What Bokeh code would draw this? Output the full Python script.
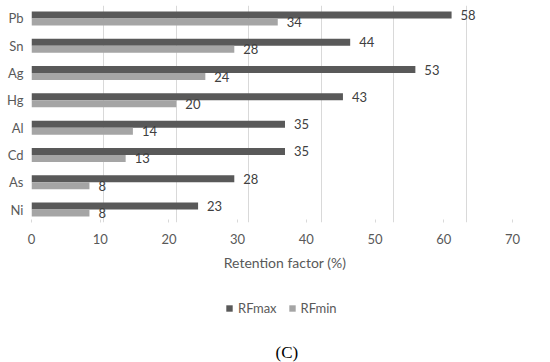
from bokeh.plotting import figure
from bokeh.layouts import column
from bokeh.core.properties import value
from bokeh.models import (ColumnDataSource, LabelSet, Range1d, LinearAxis, Grid,
                          FixedTicker, Legend, LegendItem, Label)
from bokeh.transform import dodge
from bokeh.embed import file_html
from bokeh.resources import INLINE

categories = ["Pb", "Sn", "Ag", "Hg", "Al", "Cd", "As", "Ni"]
rf_max = [58, 44, 53, 43, 35, 35, 28, 23]
rf_min = [34, 28, 24, 20, 14, 13, 8, 8]
x_ticks = [0, 10, 20, 30, 40, 50, 60, 70]
series_names = ["RFmax", "RFmin"]
caption = "(C)"

n = len(categories)
ypos = [n - 1 - i for i in range(n)]
src = ColumnDataSource(dict(
    y=ypos, cat=categories, rfmax=rf_max, rfmin=rf_min,
    rfmax_s=[str(v) for v in rf_max], rfmin_s=[str(v) for v in rf_min],
))

FONT = "Lato"
TXT = "#595959"
DARK = "#595959"
LIGHT = "#a5a5a5"

p = figure(frame_width=507, frame_height=217, output_backend="svg", toolbar_location=None,
           x_range=Range1d(0, 70), y_range=Range1d(-0.476, 7.476),
           x_axis_type=None, y_axis_type=None,
           min_border_left=31, min_border_right=12, min_border_top=5,
           min_border_bottom=0)
p.outline_line_color = None
p.background_fill_color = "white"

p.add_layout(Grid(dimension=0, ticker=FixedTicker(ticks=x_ticks),
                  grid_line_color="#d9d9d9", grid_line_width=1))

bw = 0.256
p.hbar(y=dodge("y", bw / 2), right="rfmax", left=0, height=bw,
       source=src, fill_color=DARK, line_color=None)
p.hbar(y=dodge("y", -bw / 2), right="rfmin", left=0, height=bw,
       source=src, fill_color=LIGHT, line_color=None)

lbl_kw = dict(text_font=value(FONT), text_font_size=value("13px"),
              text_color=value("#404040"), text_baseline=value("middle"),
              text_align=value("left"), x_offset=9)
p.add_layout(LabelSet(x="rfmax", y=dodge("y", bw / 2), text="rfmax_s", source=src, **lbl_kw))
p.add_layout(LabelSet(x="rfmin", y=dodge("y", -bw / 2), text="rfmin_s", source=src, **lbl_kw))

# category axis
yax = LinearAxis(ticker=FixedTicker(ticks=ypos),
                 major_label_overrides={y: c for y, c in zip(ypos, categories)})
yax.axis_line_color = None
yax.major_tick_line_color = None
yax.minor_tick_line_color = None
yax.major_tick_in = 0
yax.major_tick_out = 0
yax.major_label_text_font = FONT
yax.major_label_text_font_size = "13px"
yax.major_label_text_color = TXT
yax.major_label_standoff = 8
p.add_layout(yax, "left")

# value axis
p.extra_x_ranges = {"ax": Range1d(0, 73.79)}
xax = LinearAxis(x_range_name="ax", ticker=FixedTicker(ticks=x_ticks),
                 axis_label="Retention factor (%)")
xax.axis_line_color = None
xax.major_tick_line_color = "#d9d9d9"
xax.major_tick_in = 3
xax.major_tick_out = 0
xax.minor_tick_line_color = None
xax.major_label_text_font = FONT
xax.major_label_text_font_size = "13px"
xax.major_label_text_color = TXT
xax.major_label_standoff = 11
xax.axis_label_text_font = FONT
xax.axis_label_text_font_size = "14px"
xax.axis_label_text_font_style = "normal"
xax.axis_label_text_color = TXT
xax.axis_label_standoff = 7
p.add_layout(xax, "below")

# legend + caption strip
q = figure(width=550, height=89, output_backend="svg", toolbar_location=None,
           x_range=Range1d(0, 550), y_range=Range1d(0, 89),
           x_axis_type=None, y_axis_type=None,
           min_border_left=0, min_border_right=0, min_border_top=0, min_border_bottom=0)
q.outline_line_color = None
q.xgrid.visible = False
q.ygrid.visible = False
# legend swatches reuse the series data, drawn off-screen in this strip
g1 = q.hbar(y=dodge("y", -1000), right="rfmax", left=0, height=1, source=src,
            fill_color=DARK, line_color=None)
g2 = q.hbar(y=dodge("y", -1000), right="rfmin", left=0, height=1, source=src,
            fill_color=LIGHT, line_color=None)
legend = Legend(items=[LegendItem(label=series_names[0], renderers=[g1], index=0),
                       LegendItem(label=series_names[1], renderers=[g2], index=0)],
                orientation="horizontal", location=(194, 46),
                label_text_font=FONT, label_text_font_size="13px",
                label_text_color=TXT, glyph_width=8, glyph_height=8,
                label_standoff=5, spacing=11, border_line_color=None,
                background_fill_alpha=0, margin=0, padding=0)
q.add_layout(legend, "center")
q.add_layout(Label(x=277, y=10, text=caption, text_align="center", text_baseline="middle",
                   text_font="Liberation Serif", text_font_size="17px", text_color="black"))

layout = column(p, q, spacing=0)
open("out.html", "w").write(file_html(layout, INLINE))
